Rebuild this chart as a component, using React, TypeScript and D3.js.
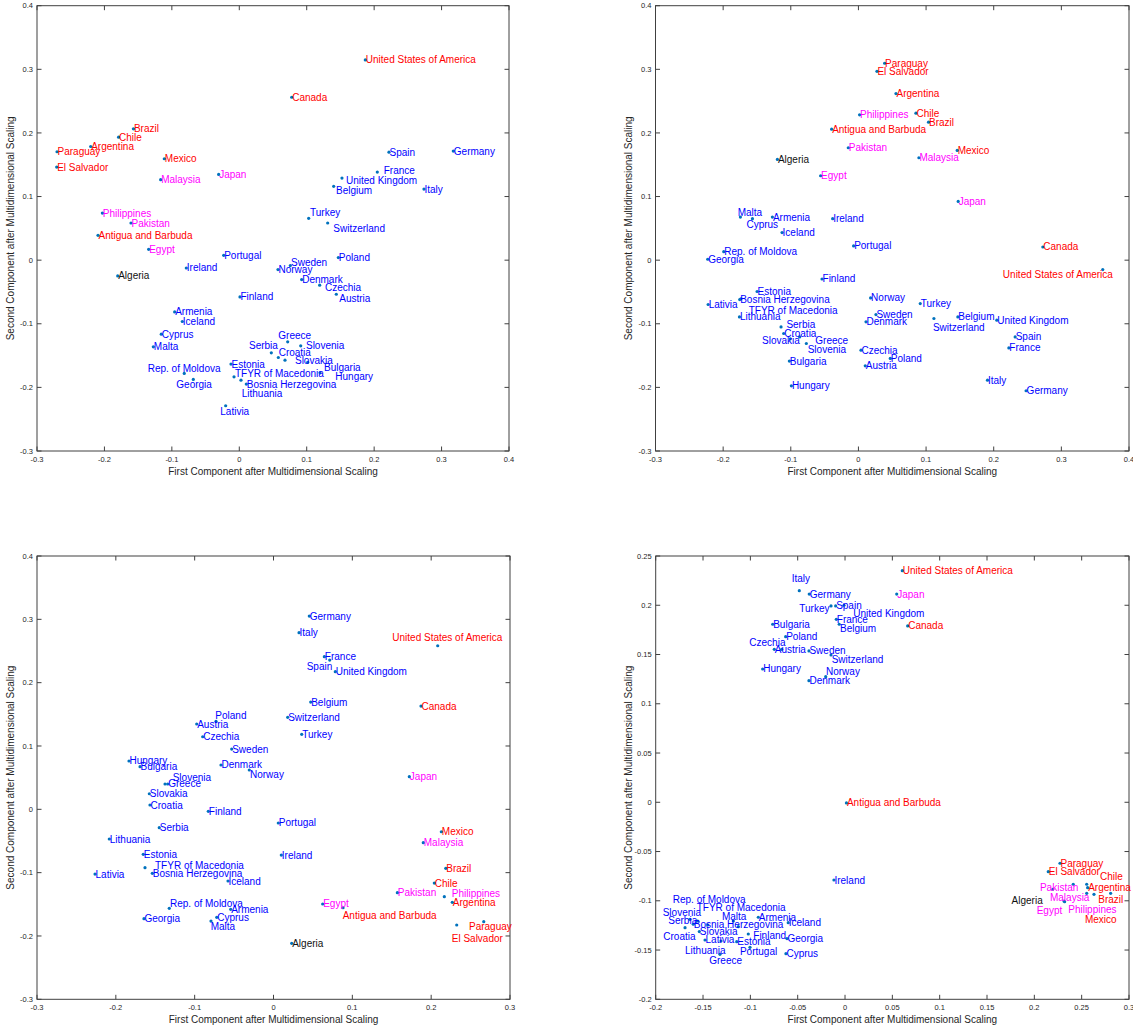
import React from "react";
import * as d3 from "d3";

// ---- country colour groups ----
const RED_COUNTRIES = ["United States of America", "Canada", "Brazil", "Chile", "Argentina", "Paraguay", "El Salvador", "Mexico", "Antigua and Barbuda"];
const MAGENTA_COUNTRIES = ["Malaysia", "Japan", "Philippines", "Pakistan", "Egypt"];
const BLACK_COUNTRIES = ["Algeria"];

// ---- axis titles ----
const X_TITLE = "First Component after Multidimensional Scaling";
const Y_TITLE = "Second Component after Multidimensional Scaling";

// ---- ticks ----
const TICKS_A = [-0.3, -0.2, -0.1, 0, 0.1, 0.2, 0.3, 0.4];
const TICKS_B = [-0.3, -0.2, -0.1, 0, 0.1, 0.2, 0.3];
const TICKS_4X = [-0.2, -0.15, -0.1, -0.05, 0, 0.05, 0.1, 0.15, 0.2, 0.25, 0.3];
const TICKS_4Y = [-0.2, -0.15, -0.1, -0.05, 0, 0.05, 0.1, 0.15, 0.2, 0.25];

// ---- panel 1 (top-left) ----
const P1_POINTS: [string, number, number][] = [
  ["United States of America", 0.1869, 0.3148],
  ["Canada", 0.0777, 0.2561],
  ["Brazil", -0.157, 0.2065],
  ["Chile", -0.179, 0.1933],
  ["Argentina", -0.2204, 0.1787],
  ["Paraguay", -0.2703, 0.1704],
  ["El Salvador", -0.2708, 0.1463],
  ["Mexico", -0.1112, 0.1594],
  ["Malaysia", -0.1166, 0.1265],
  ["Japan", -0.0306, 0.1348],
  ["Philippines", -0.2031, 0.074],
  ["Pakistan", -0.1606, 0.0584],
  ["Antigua and Barbuda", -0.2095, 0.039],
  ["Egypt", -0.1344, 0.0171],
  ["Portugal", -0.0231, 0.0076],
  ["Ireland", -0.0786, -0.0123],
  ["Algeria", -0.1803, -0.0248],
  ["Finland", 0.001, -0.0578],
  ["Armenia", -0.0958, -0.0813],
  ["Iceland", -0.0845, -0.0964],
  ["Cyprus", -0.1157, -0.1164],
  ["Malta", -0.1275, -0.1363],
  ["Rep. of Moldova", -0.0816, -0.178],
  ["Georgia", -0.0682, -0.1875],
  ["Lativia", -0.0202, -0.2289],
  ["Estonia", -0.0123, -0.1634],
  ["TFYR of Macedonia", -0.0078, -0.1834],
  ["Lithuania", 0.0025, -0.1886],
  ["Bosnia Herzegovina", 0.0104, -0.1948],
  ["Spain", 0.222, 0.1698],
  ["Germany", 0.3174, 0.1714],
  ["France", 0.2047, 0.1384],
  ["United Kingdom", 0.1523, 0.129],
  ["Belgium", 0.14, 0.116],
  ["Italy", 0.2739, 0.1117],
  ["Turkey", 0.1029, 0.0657],
  ["Switzerland", 0.1311, 0.0584],
  ["Poland", 0.1469, 0.004],
  ["Sweden", 0.0757, -0.0085],
  ["Norway", 0.0574, -0.0148],
  ["Denmark", 0.0925, -0.0305],
  ["Czechia", 0.1192, -0.0394],
  ["Austria", 0.1439, -0.0536],
  ["Greece", 0.0718, -0.1284],
  ["Slovenia", 0.0911, -0.1347],
  ["Serbia", 0.0475, -0.1457],
  ["Croatia", 0.0579, -0.153],
  ["Slovakia", 0.0678, -0.1572],
  ["Bulgaria", 0.1015, -0.1608],
  ["Hungary", 0.1197, -0.1771],
];
// label anchors (data units) where a label was moved away from its point
const P1_LABELS: [string, number, number][] = [
  ["France", 0.2142, 0.1406],
  ["United Kingdom", 0.1583, 0.1249],
  ["Belgium", 0.1434, 0.1092],
  ["Turkey", 0.1049, 0.0747],
  ["Switzerland", 0.1394, 0.0496],
  ["Sweden", 0.0767, -0.0038],
  ["Czechia", 0.1271, -0.043],
  ["Austria", 0.1483, -0.0603],
  ["Greece", 0.0579, -0.1184],
  ["Slovenia", 0.0989, -0.1341],
  ["Serbia", 0.0144, -0.1341],
  ["Croatia", 0.0584, -0.1457],
  ["Slovakia", 0.0826, -0.1583],
  ["Bulgaria", 0.1256, -0.1692],
  ["Hungary", 0.1424, -0.1823],
  ["TFYR of Macedonia", -0.0064, -0.178],
  ["Lithuania", 0.0036, -0.2094],
  ["Rep. of Moldova", -0.1358, -0.1702],
  ["Georgia", -0.0934, -0.1953],
  ["Lativia", -0.0282, -0.2372],
];

// ---- panel 2 (top-right) ----
const P2_POINTS: [string, number, number][] = [
  ["Paraguay", 0.0387, 0.3095],
  ["El Salvador", 0.0274, 0.2969],
  ["Argentina", 0.0555, 0.2619],
  ["Philippines", 0.0017, 0.2285],
  ["Chile", 0.085, 0.231],
  ["Brazil", 0.1036, 0.2169],
  ["Antigua and Barbuda", -0.0396, 0.2059],
  ["Pakistan", -0.015, 0.1767],
  ["Algeria", -0.1198, 0.1583],
  ["Malaysia", 0.0894, 0.161],
  ["Mexico", 0.146, 0.1725],
  ["Egypt", -0.0559, 0.1327],
  ["Japan", 0.1475, 0.0924],
  ["Canada", 0.2726, 0.0207],
  ["United States of America", 0.3612, -0.0148],
  ["Malta", -0.1745, 0.0678],
  ["Cyprus", -0.1567, 0.0652],
  ["Armenia", -0.1272, 0.0678],
  ["Ireland", -0.0381, 0.0652],
  ["Iceland", -0.1129, 0.0433],
  ["Portugal", -0.0071, 0.0223],
  ["Rep. of Moldova", -0.1991, 0.0134],
  ["Georgia", -0.2228, 0.0014],
  ["Finland", -0.0538, -0.0296],
  ["Estonia", -0.1498, -0.0493],
  ["Bosnia Herzegovina", -0.1755, -0.0619],
  ["TFYR of Macedonia", -0.1737, -0.0607],
  ["Lativia", -0.2222, -0.0697],
  ["Lithuania", -0.1759, -0.0892],
  ["Norway", 0.018, -0.0594],
  ["Sweden", 0.0259, -0.0855],
  ["Denmark", 0.0112, -0.097],
  ["Serbia", -0.1144, -0.1049],
  ["Croatia", -0.1105, -0.1153],
  ["Slovakia", -0.1006, -0.1237],
  ["Greece", -0.0869, -0.1206],
  ["Slovenia", -0.077, -0.131],
  ["Czechia", 0.0038, -0.1415],
  ["Poland", 0.0471, -0.1545],
  ["Austria", 0.0101, -0.1661],
  ["Bulgaria", -0.1021, -0.1587],
  ["Hungary", -0.0991, -0.1975],
  ["Turkey", 0.0914, -0.0682],
  ["Switzerland", 0.1116, -0.0917],
  ["Belgium", 0.147, -0.0892],
  ["United Kingdom", 0.2046, -0.0944],
  ["Spain", 0.2317, -0.1206],
  ["France", 0.2224, -0.1379],
  ["Italy", 0.1908, -0.1886],
  ["Germany", 0.2479, -0.2053],
];
const P2_LABELS: [string, number, number][] = [
  ["Malta", -0.1785, 0.0756],
  ["Cyprus", -0.1656, 0.0563],
  ["TFYR of Macedonia", -0.1622, -0.0787],
  ["Serbia", -0.1065, -0.1011],
  ["Slovakia", -0.1424, -0.1269],
  ["Greece", -0.0637, -0.1269],
  ["Slovenia", -0.075, -0.1404],
  ["United States of America", 0.2135, -0.0222],
  ["Switzerland", 0.1101, -0.1058],
];

// ---- panel 3 (bottom-left) ----
const P3_POINTS: [string, number, number][] = [
  ["Germany", 0.0454, 0.3052],
  ["Italy", 0.0324, 0.2789],
  ["United States of America", 0.2083, 0.2583],
  ["France", 0.0645, 0.241],
  ["Spain", 0.0713, 0.2357],
  ["United Kingdom", 0.0784, 0.2173],
  ["Belgium", 0.0472, 0.1694],
  ["Canada", 0.1871, 0.1631],
  ["Switzerland", 0.018, 0.1453],
  ["Poland", -0.0729, 0.139],
  ["Austria", -0.0974, 0.1347],
  ["Czechia", -0.0898, 0.1146],
  ["Turkey", 0.0358, 0.1184],
  ["Sweden", -0.053, 0.0952],
  ["Hungary", -0.1833, 0.0763],
  ["Bulgaria", -0.1693, 0.0673],
  ["Denmark", -0.0666, 0.07],
  ["Norway", -0.0307, 0.0621],
  ["Slovenia", -0.1376, 0.04],
  ["Greece", -0.1342, 0.04],
  ["Japan", 0.1723, 0.0515],
  ["Slovakia", -0.1575, 0.0246],
  ["Croatia", -0.1567, 0.0068],
  ["Finland", -0.0827, -0.0032],
  ["Portugal", 0.0061, -0.0216],
  ["Serbia", -0.1449, -0.029],
  ["Lithuania", -0.2083, -0.0469],
  ["Mexico", 0.2129, -0.0354],
  ["Malaysia", 0.19, -0.0527],
  ["Estonia", -0.1652, -0.0711],
  ["Ireland", 0.0099, -0.0722],
  ["TFYR of Macedonia", -0.163, -0.0922],
  ["Bosnia Herzegovina", -0.1537, -0.1011],
  ["Lativia", -0.2264, -0.1022],
  ["Iceland", -0.0577, -0.1132],
  ["Brazil", 0.2185, -0.0932],
  ["Chile", 0.204, -0.1164],
  ["Pakistan", 0.1571, -0.1317],
  ["Philippines", 0.2167, -0.138],
  ["Argentina", 0.2268, -0.1469],
  ["Egypt", 0.0624, -0.1495],
  ["Antigua and Barbuda", 0.0882, -0.1554],
  ["Rep. of Moldova", -0.1322, -0.1563],
  ["Armenia", -0.0543, -0.1579],
  ["Georgia", -0.1643, -0.1727],
  ["Cyprus", -0.072, -0.1705],
  ["Malta", -0.0793, -0.1764],
  ["Paraguay", 0.2667, -0.1775],
  ["El Salvador", 0.2324, -0.1827],
  ["Algeria", 0.0231, -0.2116],
];
const P3_LABELS: [string, number, number][] = [
  ["United States of America", 0.1507, 0.271],
  ["Spain", 0.0421, 0.2258],
  ["Poland", -0.0738, 0.1478],
  ["Norway", -0.0298, 0.0546],
  ["Slovenia", -0.1279, 0.0505],
  ["TFYR of Macedonia", -0.1503, -0.088],
  ["Philippines", 0.2261, -0.1326],
  ["Antigua and Barbuda", 0.0878, -0.168],
  ["Rep. of Moldova", -0.1313, -0.1484],
  ["Malta", -0.0797, -0.1854],
  ["Paraguay", 0.248, -0.1847],
  ["El Salvador", 0.2261, -0.2037],
];

// ---- panel 4 (bottom-right) ----
const P4_POINTS: [string, number, number][] = [
  ["Italy", -0.0483, 0.2148],
  ["Germany", -0.0378, 0.2114],
  ["United States of America", 0.0605, 0.2351],
  ["Japan", 0.0546, 0.2114],
  ["Turkey", -0.0148, 0.1993],
  ["Spain", -0.0099, 0.1993],
  ["United Kingdom", -0.0011, 0.2],
  ["France", -0.0092, 0.1857],
  ["Belgium", -0.0061, 0.1807],
  ["Canada", 0.0662, 0.179],
  ["Bulgaria", -0.0764, 0.1807],
  ["Poland", -0.0627, 0.1681],
  ["Austria", -0.0747, 0.1553],
  ["Czechia", -0.0669, 0.1553],
  ["Sweden", -0.0381, 0.1536],
  ["Switzerland", -0.0148, 0.1495],
  ["Hungary", -0.087, 0.1353],
  ["Norway", -0.0204, 0.1275],
  ["Denmark", -0.0381, 0.1234],
  ["Antigua and Barbuda", 0.0015, -0.0007],
  ["Ireland", -0.0117, -0.0789],
  ["Paraguay", 0.2271, -0.0619],
  ["El Salvador", 0.2147, -0.0704],
  ["Pakistan", 0.2411, -0.0832],
  ["Chile", 0.2553, -0.0832],
  ["Argentina", 0.2563, -0.0867],
  ["Algeria", 0.2194, -0.0883],
  ["Malaysia", 0.2313, -0.1002],
  ["Egypt", 0.232, -0.1009],
  ["Philippines", 0.2553, -0.0924],
  ["Brazil", 0.2806, -0.0924],
  ["Mexico", 0.263, -0.0934],
  ["Rep. of Moldova", -0.1451, -0.1245],
  ["TFYR of Macedonia", -0.1127, -0.1263],
  ["Slovenia", -0.1556, -0.1205],
  ["Serbia", -0.1638, -0.1188],
  ["Malta", -0.118, -0.1205],
  ["Armenia", -0.0916, -0.1167],
  ["Bosnia Herzegovina", -0.1603, -0.1238],
  ["Iceland", -0.06, -0.1222],
  ["Croatia", -0.169, -0.1273],
  ["Slovakia", -0.1539, -0.1313],
  ["Finland", -0.1022, -0.1337],
  ["Georgia", -0.0613, -0.1384],
  ["Lativia", -0.1479, -0.1398],
  ["Estonia", -0.1144, -0.1415],
  ["Lithuania", -0.131, -0.1408],
  ["Portugal", -0.1004, -0.1472],
  ["Cyprus", -0.0624, -0.1537],
  ["Greece", -0.1321, -0.1543],
];
const P4_LABELS: [string, number, number][] = [
  ["Italy", -0.0563, 0.2267],
  ["Turkey", -0.0483, 0.1969],
  ["United Kingdom", 0.0087, 0.1914],
  ["Belgium", -0.0053, 0.1759],
  ["Czechia", -0.1011, 0.1624],
  ["Switzerland", -0.0141, 0.1452],
  ["Norway", -0.0201, 0.1326],
  ["Pakistan", 0.2059, -0.0867],
  ["Chile", 0.2693, -0.0755],
  ["Algeria", 0.176, -0.0999],
  ["Malaysia", 0.2165, -0.0968],
  ["Egypt", 0.2025, -0.1103],
  ["Philippines", 0.2358, -0.1086],
  ["Brazil", 0.2675, -0.0985],
  ["Mexico", 0.2535, -0.1188],
  ["Rep. of Moldova", -0.182, -0.0985],
  ["TFYR of Macedonia", -0.1567, -0.107],
  ["Slovenia", -0.1926, -0.1117],
  ["Serbia", -0.1867, -0.1202],
  ["Malta", -0.13, -0.1161],
  ["Croatia", -0.192, -0.1364],
  ["Finland", -0.0969, -0.135],
  ["Lithuania", -0.169, -0.1506],
  ["Portugal", -0.111, -0.1512],
  ["Greece", -0.1434, -0.1611],
];

type Box = { l: number; r: number; t: number; b: number };

const FONT = "'Liberation Sans', Arial, Helvetica, sans-serif";
const AXIS_COLOR = "#404040";
const TEXT_COLOR = "#262626";
const DOT_COLOR = "#0072BD";

function labelColor(name: string) {
  if (RED_COUNTRIES.includes(name)) return "#FF0000";
  if (MAGENTA_COUNTRIES.includes(name)) return "#FF00FF";
  if (BLACK_COUNTRIES.includes(name)) return "#111111";
  return "#0000FF";
}

const fmt = (v: number) => String(+v.toFixed(2));

function Panel(props: {
  box: Box;
  points: [string, number, number][];
  labels: [string, number, number][];
  xDomain: [number, number];
  yDomain: [number, number];
  xTicks: number[];
  yTicks: number[];
}) {
  const { box, points, labels, xDomain, yDomain, xTicks, yTicks } = props;
  const x = d3.scaleLinear().domain(xDomain).range([box.l, box.r]);
  const y = d3.scaleLinear().domain(yDomain).range([box.b, box.t]);
  const lab = new Map(labels.map((d) => [d[0], [d[1], d[2]]]));
  const tl = 4.5;
  return (
    <g>
      {/* ticks */}
      {xTicks.map((t) => (
        <g key={"x" + t}>
          <line x1={x(t)} x2={x(t)} y1={box.b} y2={box.b - tl} stroke={AXIS_COLOR} strokeWidth={1} />
          <line x1={x(t)} x2={x(t)} y1={box.t} y2={box.t + tl} stroke={AXIS_COLOR} strokeWidth={1} />
          <text x={x(t)} y={box.b + 10.5} textAnchor="middle" fontSize={7.5} fill={TEXT_COLOR} fontFamily={FONT}>
            {fmt(t)}
          </text>
        </g>
      ))}
      {yTicks.map((t) => (
        <g key={"y" + t}>
          <line x1={box.l} x2={box.l + tl} y1={y(t)} y2={y(t)} stroke={AXIS_COLOR} strokeWidth={1} />
          <line x1={box.r} x2={box.r - tl} y1={y(t)} y2={y(t)} stroke={AXIS_COLOR} strokeWidth={1} />
          <text x={box.l - 4} y={y(t)} dy="0.35em" textAnchor="end" fontSize={7.5} fill={TEXT_COLOR} fontFamily={FONT}>
            {fmt(t)}
          </text>
        </g>
      ))}
      <rect x={box.l} y={box.t} width={box.r - box.l} height={box.b - box.t} fill="none" stroke={AXIS_COLOR} strokeWidth={1} />
      {/* axis titles */}
      <text x={(box.l + box.r) / 2} y={box.b + 23.5} textAnchor="middle" fontSize={10} fill={TEXT_COLOR} fontFamily={FONT}>
        {X_TITLE}
      </text>
      <text
        transform={`translate(${box.l - 27},${(box.t + box.b) / 2}) rotate(-90)`}
        dy="0.35em"
        textAnchor="middle"
        fontSize={10}
        fill={TEXT_COLOR}
        fontFamily={FONT}
      >
        {Y_TITLE}
      </text>
      {/* points */}
      {points.map((p) => (
        <circle key={"c" + p[0]} cx={x(p[1])} cy={y(p[2])} r={1.6} fill={DOT_COLOR} />
      ))}
      {/* labels */}
      {points.map((p) => {
        const a = lab.get(p[0]);
        const lx = a ? x(a[0]) : x(p[1]) + 0.5;
        const ly = a ? y(a[1]) : y(p[2]);
        return (
          <text key={"t" + p[0]} x={lx} y={ly} dy="0.35em" fontSize={10} fill={labelColor(p[0])} fontFamily={FONT}>
            {p[0]}
          </text>
        );
      })}
    </g>
  );
}

export default function App() {
  return (
    <svg width={1133} height={1031} style={{ position: "absolute", left: 0, top: 0, background: "white" }}>
      <rect x={0} y={0} width={1133} height={1031} fill="white" />
      <Panel box={{ l: 37, r: 509, t: 5.7, b: 451 }} points={P1_POINTS} labels={P1_LABELS} xDomain={[-0.3, 0.4]} yDomain={[-0.3, 0.4]} xTicks={TICKS_A} yTicks={TICKS_A} />
      <Panel box={{ l: 655.5, r: 1129, t: 5.7, b: 451 }} points={P2_POINTS} labels={P2_LABELS} xDomain={[-0.3, 0.4]} yDomain={[-0.3, 0.4]} xTicks={TICKS_A} yTicks={TICKS_A} />
      <Panel box={{ l: 37, r: 510, t: 556, b: 999.3 }} points={P3_POINTS} labels={P3_LABELS} xDomain={[-0.3, 0.3]} yDomain={[-0.3, 0.4]} xTicks={TICKS_B} yTicks={TICKS_A} />
      <Panel box={{ l: 655.7, r: 1129, t: 556, b: 999.3 }} points={P4_POINTS} labels={P4_LABELS} xDomain={[-0.2, 0.3]} yDomain={[-0.2, 0.25]} xTicks={TICKS_4X} yTicks={TICKS_4Y} />
    </svg>
  );
}
